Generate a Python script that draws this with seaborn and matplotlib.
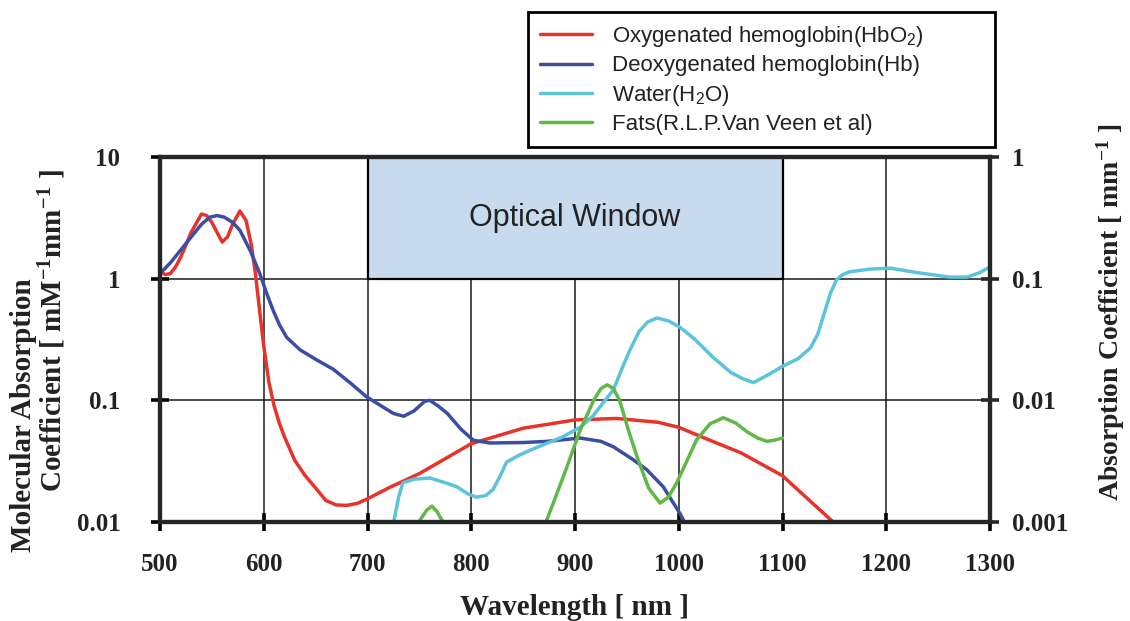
import matplotlib
matplotlib.use("Agg")
import matplotlib.pyplot as plt
import seaborn as sns
from matplotlib.ticker import NullLocator, FixedLocator, FixedFormatter

# ---------------- data ----------------
wl_hbo2 = [500, 505, 510, 515, 520, 530, 540, 545, 550, 555, 560, 565, 570, 577, 583, 588, 592,
           596, 600, 605, 610, 615, 620, 630, 640, 650, 660, 670, 680, 690, 700, 720, 750,
           800, 850, 900, 940, 980, 1000, 1030, 1060, 1100, 1130, 1150]
hbo2 = [1.15, 1.08, 1.10, 1.25, 1.5, 2.4, 3.4, 3.3, 2.9, 2.4, 2.0, 2.2, 2.8, 3.6, 3.0, 1.9, 1.1,
        0.55, 0.28, 0.14, 0.09, 0.065, 0.05, 0.032, 0.024, 0.019, 0.015, 0.0138, 0.0137, 0.0142,
        0.0155, 0.019, 0.025, 0.044, 0.059, 0.069, 0.071, 0.066, 0.060, 0.047, 0.037, 0.024,
        0.014, 0.0098]

wl_hb = [500, 510, 520, 530, 540, 548, 555, 562, 570, 577, 587, 596, 603, 609, 615, 622, 635,
         651, 667, 683, 699, 715, 725, 735, 745, 755, 760, 768, 777, 790, 802, 818, 850, 873,
         905, 925, 937, 955, 969, 985, 1001, 1006]
hb = [1.10, 1.35, 1.72, 2.2, 2.8, 3.2, 3.3, 3.2, 2.9, 2.5, 1.7, 1.11, 0.75, 0.55, 0.42, 0.33,
      0.26, 0.215, 0.18, 0.14, 0.107, 0.088, 0.078, 0.074, 0.082, 0.098, 0.10, 0.09, 0.078,
      0.058, 0.047, 0.0446, 0.045, 0.046, 0.049, 0.046, 0.0415, 0.033, 0.027, 0.0195, 0.0118,
      0.0098]

wl_water = [725, 730, 734, 745, 760, 775, 786, 797, 805, 814, 821, 828, 834, 845, 857, 872, 888,
            905, 917, 927, 937, 945, 953, 962, 970, 979, 990, 1001, 1015, 1033, 1050, 1062, 1072,
            1085, 1100, 1115, 1127, 1134, 1139, 1146, 1152, 1158, 1165, 1185, 1204, 1230, 1261,
            1278, 1290, 1300]
water = [0.0098, 0.016, 0.021, 0.0225, 0.023, 0.021, 0.0195, 0.017, 0.016, 0.0165, 0.0185,
         0.024, 0.031, 0.035, 0.039, 0.044, 0.050, 0.060, 0.074, 0.095, 0.122, 0.18, 0.26, 0.37,
         0.44, 0.475, 0.45, 0.40, 0.32, 0.226, 0.17, 0.15, 0.14, 0.16, 0.19, 0.22, 0.27, 0.35,
         0.48, 0.75, 0.98, 1.08, 1.14, 1.20, 1.22, 1.12, 1.03, 1.03, 1.12, 1.25]

wl_fat_a = [748, 752, 757, 762, 767, 771, 775]
fat_a = [0.0095, 0.0108, 0.0125, 0.0135, 0.0122, 0.0106, 0.0095]
wl_fat_b = [871, 880, 892, 905, 918, 925, 931, 937, 943, 952, 960, 971, 982, 990, 998, 1008,
            1017, 1030, 1043, 1055, 1066, 1076, 1085, 1092, 1100]
fat_b = [0.0095, 0.015, 0.028, 0.057, 0.10, 0.125, 0.134, 0.125, 0.10, 0.055, 0.034, 0.019,
         0.0143, 0.016, 0.021, 0.032, 0.047, 0.064, 0.072, 0.065, 0.055, 0.049, 0.046, 0.047,
         0.049]

series_labels = ["Oxygenated hemoglobin(HbO$_2$)", "Deoxygenated hemoglobin(Hb)",
                 "Water(H$_2$O)", "Fats(R.L.P.Van Veen et al)"]
series_colors = ["#e8332b", "#3c4ea3", "#5cc3dd", "#62b847"]

x_ticks = [500, 600, 700, 800, 900, 1000, 1100, 1200, 1300]
y_ticks_left = [0.01, 0.1, 1, 10]
y_labels_left = ["0.01", "0.1", "1", "10"]
y_ticks_right = [0.001, 0.01, 0.1, 1]
y_labels_right = ["0.001", "0.01", "0.1", "1"]
window = (700, 1100)

# ---------------- style ----------------
sns.set_theme(style="ticks")
plt.rcParams['font.family'] = ['Liberation Serif', 'DejaVu Serif']
plt.rcParams['mathtext.default'] = 'regular'
SANS = ['Liberation Sans', 'DejaVu Sans']
TXT = '#222222'

fig = plt.figure(figsize=(11.3, 6.21), dpi=100)
ax = fig.add_axes([160 / 1130, 1 - 522 / 621, 830 / 1130, 365 / 621])

lw = 2.5
sns.lineplot(x=wl_hbo2, y=hbo2, ax=ax, color=series_colors[0], lw=lw, label=series_labels[0], sort=False)
sns.lineplot(x=wl_hb, y=hb, ax=ax, color=series_colors[1], lw=lw, label=series_labels[1], sort=False)
sns.lineplot(x=wl_water, y=water, ax=ax, color=series_colors[2], lw=lw, label=series_labels[2], sort=False)
sns.lineplot(x=wl_fat_b, y=fat_b, ax=ax, color=series_colors[3], lw=lw, label=series_labels[3], sort=False)
sns.lineplot(x=wl_fat_a, y=fat_a, ax=ax, color=series_colors[3], lw=lw, legend=False, sort=False)

ax.set_yscale('log')
ax.set_xlim(500, 1300)
ax.set_ylim(0.01, 10)
ax.xaxis.set_major_locator(FixedLocator(x_ticks))
ax.xaxis.set_major_formatter(FixedFormatter([str(t) for t in x_ticks]))
ax.yaxis.set_major_locator(FixedLocator(y_ticks_left))
ax.yaxis.set_major_formatter(FixedFormatter(y_labels_left))
ax.yaxis.set_minor_locator(NullLocator())
ax.xaxis.set_minor_locator(NullLocator())

ax.set_axisbelow(True)
ax.grid(True, which='major', color='#1a1a1a', lw=1.1)

# optical window
ax.axvspan(window[0], window[1], ymin=2 / 3, ymax=1, facecolor='#c8daee',
           edgecolor='black', lw=1.6, zorder=1)
ax.text(900, 10 ** 0.5, "Optical Window", ha='center', va='center', fontsize=22,
        family=SANS, color=TXT, zorder=3)

for s in ax.spines.values():
    s.set_linewidth(3)
    s.set_color('black')

ax.tick_params(axis='both', which='major', direction='inout', length=13, width=2.6,
               labelsize=18, colors='black')
ax.tick_params(axis='x', pad=16)
ax.tick_params(axis='y', pad=22)
for t in ax.get_xticklabels() + ax.get_yticklabels():
    t.set_fontweight('bold')
    t.set_color(TXT)

ax2 = ax.twinx()
ax2.set_yscale('log')
ax2.set_ylim(0.001, 1)
ax2.yaxis.set_major_locator(FixedLocator(y_ticks_right))
ax2.yaxis.set_major_formatter(FixedFormatter(y_labels_right))
ax2.yaxis.set_minor_locator(NullLocator())
ax2.tick_params(axis='y', which='major', direction='inout', length=13, width=2.6,
                labelsize=18, pad=9)
for t in ax2.get_yticklabels():
    t.set_fontweight('bold')
    t.set_color(TXT)
for s in ax2.spines.values():
    s.set_linewidth(3)
ax2.grid(False)

ax.set_xlabel("Wavelength [ nm ]", fontsize=21, fontweight='bold', color=TXT)
ax.xaxis.set_label_coords(0.5, (522 - 594) / 365)
ax.xaxis.label.set_va('top')
ax.set_ylabel("")
fig.text(24 / 1130, 1 - 415 / 621, "Molecular Absorption", rotation=90, ha='center', va='center',
         fontsize=21, fontweight='bold', color=TXT)
fig.text(52 / 1130, 1 - 331 / 621, "Coefficient [ mM$^{-1}$mm$^{-1}$ ]", rotation=90,
         ha='center', va='center', fontsize=21, fontweight='bold', color=TXT)
fig.text(1111 / 1130, 1 - 312 / 621, "Absorption Coefficient [ mm$^{-1}$ ]", rotation=90,
         ha='center', va='center', fontsize=20, fontweight='bold', color=TXT)

handles, labels = ax.get_legend_handles_labels()
ax.get_legend().remove()
leg = fig.legend(handles, labels, loc='upper left',
                 bbox_to_anchor=(528 / 1130, 1 - 148 / 621, 467 / 1130, 136 / 621),
                 mode='expand', prop={'family': SANS, 'size': 16},
                 frameon=True, fancybox=False, framealpha=1, edgecolor='black',
                 handlelength=2.35, handletextpad=0.9, labelspacing=0.28, borderpad=0.55,
                 borderaxespad=0)
leg.get_frame().set_linewidth(2)
for t in leg.get_texts():
    t.set_color(TXT)

fig.savefig("out.png", dpi=100)
